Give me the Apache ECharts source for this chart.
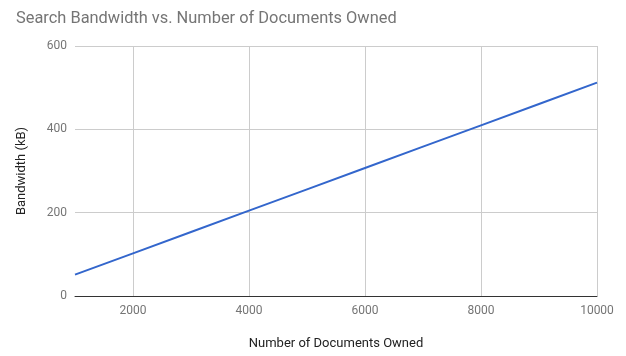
<!DOCTYPE html>
<html>
<head>
<meta charset="utf-8">
<script src="https://cdn.jsdelivr.net/npm/echarts@6/dist/echarts.min.js"></script>
<style>
  html, body { margin: 0; padding: 0; background: #fff; }
  #chart { width: 626px; height: 356px; }
</style>
</head>
<body>
<div id="chart"></div>
<script>
// Documents owned and the search bandwidth each needs (kB)
const documentsOwned = [1000, 2000, 3000, 4000, 5000, 6000, 7000, 8000, 9000, 10000];
const bandwidthKB = [51.2, 102.4, 153.6, 204.8, 256, 307.2, 358.4, 409.6, 460.8, 512];
const xTickLabels = [2000, 4000, 6000, 8000, 10000];
const yTickLabels = [0, 200, 400, 600];

const chart = echarts.init(document.getElementById('chart'), null, { renderer: 'canvas' });

const font = 'Roboto, "Noto Sans", Arial, sans-serif';

chart.setOption({
  animation: false,
  backgroundColor: '#ffffff',
  title: {
    text: 'Search Bandwidth vs. Number of Documents Owned',
    left: 11,
    top: 6,
    textStyle: { fontFamily: font, fontSize: 16.4, fontWeight: 'normal', color: '#757575' }
  },
  grid: { left: 75, right: 29, top: 46, bottom: 60, containLabel: false },
  xAxis: {
    type: 'value',
    min: 1000,
    max: 10000,
    interval: 1000,
    name: 'Number of Documents Owned',
    nameLocation: 'middle',
    nameGap: 41,
    nameTextStyle: { fontFamily: font, fontSize: 13, color: '#222' },
    axisLine: { show: true, onZero: false, lineStyle: { color: '#333', width: 1 } },
    axisTick: { show: false },
    axisLabel: {
      customValues: xTickLabels,
      formatter: (v) => String(v),
      margin: 9,
      fontFamily: font, fontSize: 12, color: '#757575'
    },
    splitLine: {
      show: true,
      lineStyle: { color: ['rgba(0,0,0,0)', '#cccccc'], width: 1 }
    }
  },
  yAxis: {
    type: 'value',
    min: yTickLabels[0],
    max: yTickLabels[yTickLabels.length - 1],
    interval: 200,
    name: 'Bandwidth (kB)',
    nameLocation: 'middle',
    nameGap: 47,
    nameTextStyle: { fontFamily: font, fontSize: 13, color: '#222' },
    axisLine: { show: false },
    axisTick: { show: false },
    axisLabel: { margin: 8, fontFamily: font, fontSize: 12, color: '#757575' },
    splitLine: { show: true, lineStyle: { color: '#cccccc', width: 1 } }
  },
  series: [{
    type: 'line',
    data: documentsOwned.map((d, i) => [d, bandwidthKB[i]]),
    showSymbol: false,
    symbol: 'none',
    lineStyle: { color: '#3366cc', width: 2 },
    z: 3
  }]
});
</script>
</body>
</html>
